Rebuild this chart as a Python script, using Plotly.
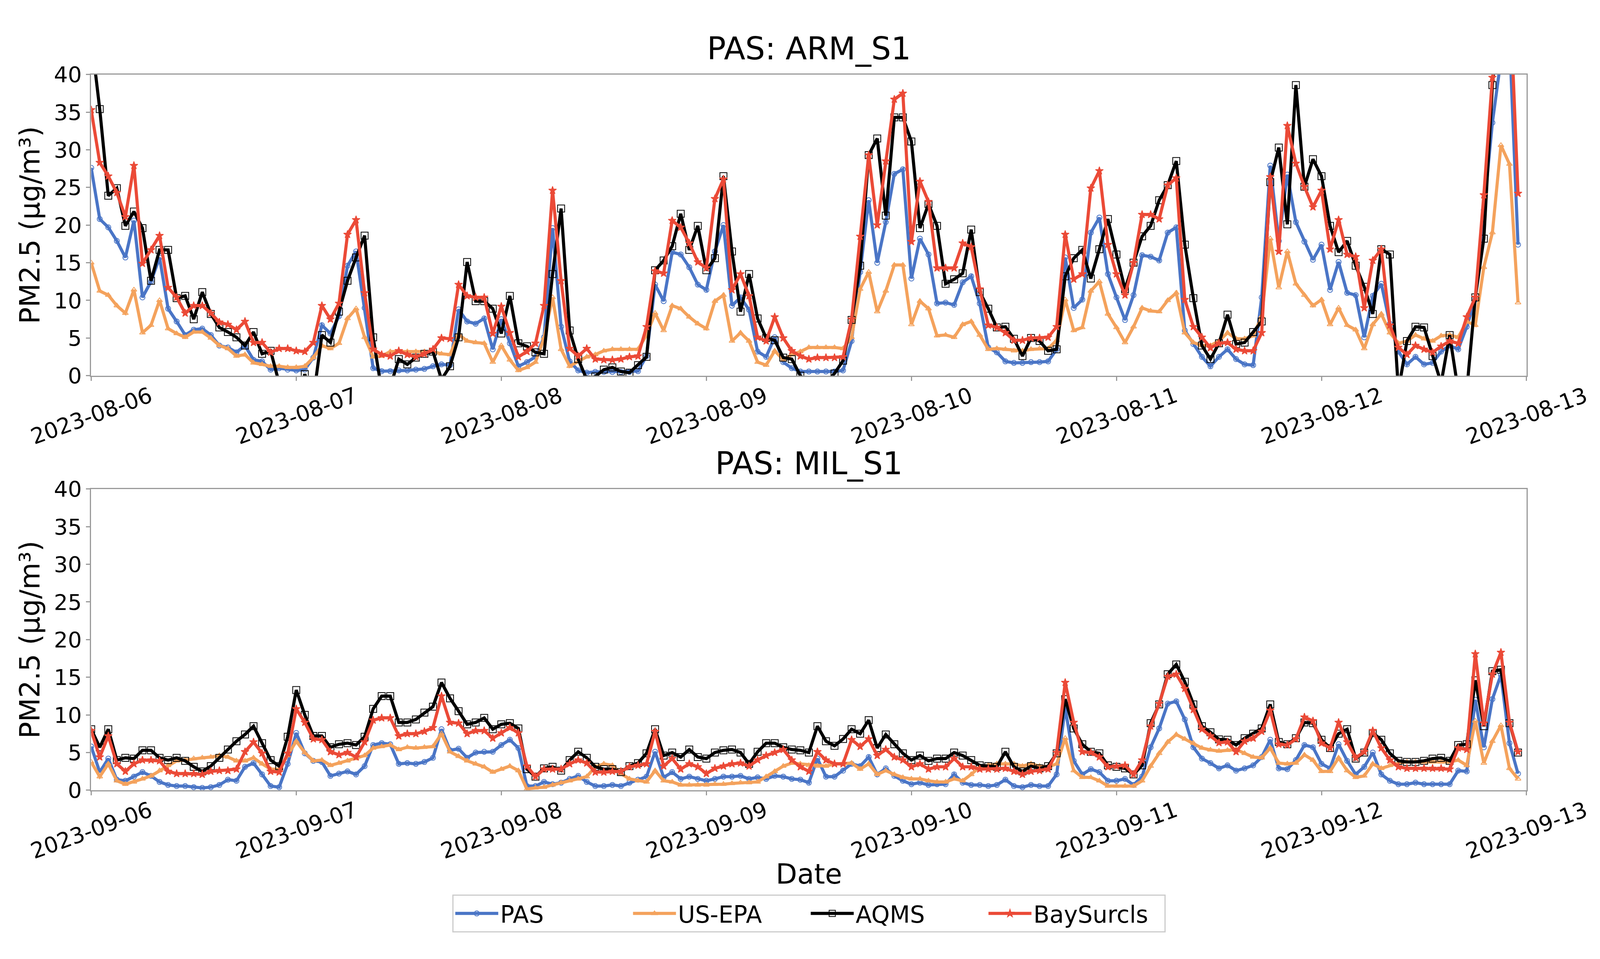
import pandas as pd
import plotly.graph_objects as go

# hourly PM2.5, 7 days, 24 values per row
arm_pas = [
    27.6, 20.8, 19.7, 17.9, 15.7, 20.6, 10.4, 12.5, 15.7, 8.9, 7.2, 5.4, 6.1, 6.25, 5.4, 4.0, 3.75, 3.1, 4.0, 2.1, 1.9, 0.8, 1.0, 0.8,
    0.7, 0.8, 2.4, 6.7, 5.6, 7.9, 14.6, 16.5, 9.0, 1.0, 0.6, 0.6, 0.7, 0.7, 0.8, 0.9, 1.25, 1.5, 1.4, 8.8, 7.2, 6.9, 7.6, 3.5,
    7.5, 4.3, 1.25, 1.8, 2.5, 5.1, 19.6, 6.5, 1.9, 0.7, 0.4, 0.5, 0.5, 0.5, 0.5, 0.5, 0.6, 2.6, 12.1, 9.9, 16.4, 16.1, 14.4, 12.1,
    11.4, 16.5, 20.0, 9.3, 10.4, 8.75, 3.2, 2.5, 5.1, 1.8, 1.0, 0.55, 0.55, 0.55, 0.55, 0.55, 0.7, 4.6, 13.75, 23.3, 15.0, 20.4, 26.8, 27.4,
    12.9, 18.2, 16.1, 9.6, 9.7, 9.4, 12.4, 13.2, 9.6, 3.75, 3.1, 1.9, 1.7, 1.7, 1.8, 1.8, 1.9, 3.5, 15.7, 9.0, 10.1, 19.0, 21.0, 13.5,
    10.4, 7.4, 10.7, 16.0, 15.8, 15.3, 19.0, 19.7, 6.0, 4.2, 2.5, 1.25, 2.5, 3.5, 2.2, 1.5, 1.4, 10.4, 27.9, 17.9, 26.7, 20.4, 17.8, 15.4,
    17.4, 11.4, 15.1, 11.0, 10.7, 5.1, 10.6, 12.2, 6.9, 3.2, 1.5, 2.5, 1.5, 1.7, 3.2, 4.0, 3.5, 6.5, 10.1, 22.0, 33.6, 42.0, 45.0, 17.4,
]
arm_epa = [
    15.0, 11.25, 10.7, 9.3, 8.3, 11.4, 5.7, 6.7, 10.0, 6.25, 5.6, 5.1, 5.8, 5.8, 5.0, 4.0, 3.6, 2.6, 2.8, 1.7, 1.5, 1.25, 1.25, 1.1,
    1.1, 1.25, 2.4, 4.0, 3.6, 4.3, 7.6, 8.9, 5.1, 2.5, 2.6, 3.2, 3.2, 3.2, 3.2, 3.2, 3.2, 2.9, 2.8, 5.5, 4.6, 4.4, 4.3, 1.8,
    4.0, 2.1, 0.7, 1.1, 1.8, 5.0, 10.4, 3.5, 1.25, 1.9, 2.5, 2.8, 3.3, 3.5, 3.5, 3.5, 3.5, 5.4, 8.3, 6.0, 9.3, 8.9, 7.8, 6.9,
    6.25, 9.9, 10.7, 4.6, 5.7, 4.6, 1.8, 1.4, 3.3, 2.1, 2.8, 3.2, 3.75, 3.75, 3.75, 3.75, 3.6, 5.1, 11.5, 13.75, 8.5, 11.25, 14.7, 14.7,
    6.8, 9.9, 8.9, 5.3, 5.4, 5.1, 6.8, 7.2, 5.4, 3.5, 3.6, 3.5, 3.3, 3.3, 3.5, 3.6, 3.6, 4.7, 10.1, 6.0, 6.4, 11.25, 12.5, 8.2,
    6.4, 4.4, 6.5, 9.0, 8.6, 8.5, 10.0, 11.0, 5.7, 4.4, 4.0, 4.0, 4.6, 5.7, 4.9, 4.9, 5.3, 7.9, 18.2, 11.7, 16.5, 12.2, 10.7, 9.3,
    10.1, 6.8, 9.0, 6.7, 6.1, 3.6, 6.8, 8.2, 5.7, 4.3, 4.6, 5.4, 4.9, 4.6, 5.3, 5.4, 5.1, 7.2, 6.7, 14.4, 19.0, 30.6, 28.1, 9.7,
]
arm_aqms = [
    45.0, 35.4, 23.9, 24.9, 19.9, 21.8, 19.6, 12.6, 16.7, 16.7, 10.3, 10.6, 7.5, 11.1, 8.2, 6.4, 5.8, 5.1, 4.0, 5.8, 2.9, 3.3, -1.0, -3.0,
    -4.0, 0.2, -3.0, 5.4, 4.4, 8.5, 12.6, 15.7, 18.6, 5.1, -2.0, -1.5, 2.2, 1.5, 2.4, 2.9, 3.2, -0.5, 1.25, 5.1, 15.1, 9.9, 9.9, 8.9,
    5.6, 10.6, 4.3, 3.9, 3.1, 2.9, 13.5, 22.2, 6.0, 2.2, -0.5, -0.1, 0.8, 1.1, 0.55, 0.4, 1.4, 2.5, 14.0, 15.3, 17.2, 21.5, 16.7, 19.9,
    14.0, 15.6, 26.5, 16.5, 8.5, 13.5, 7.6, 5.0, 4.7, 2.4, 2.2, 0.0, -1.0, -1.5, -1.0, 0.3, 2.0, 7.4, 14.6, 29.3, 31.5, 21.25, 34.3, 34.3,
    31.1, 19.6, 22.8, 19.9, 12.2, 12.8, 13.6, 19.4, 11.1, 8.9, 6.4, 6.5, 4.9, 2.6, 5.0, 4.6, 3.3, 3.5, 13.2, 15.6, 16.7, 12.9, 16.8, 20.8,
    16.1, 11.5, 15.0, 18.5, 19.9, 23.3, 25.3, 28.5, 17.4, 10.3, 4.0, 2.2, 4.3, 8.1, 4.2, 4.4, 5.8, 7.2, 25.7, 30.3, 20.1, 38.6, 25.1, 28.75,
    26.5, 19.9, 16.4, 17.9, 14.6, 11.8, 8.2, 16.8, 16.1, -2.0, 4.6, 6.5, 6.4, 2.6, -1.0, 5.4, -2.0, -2.0, 10.4, 18.2, 38.6, 50.0, 55.0, 48.0,
]
arm_bay = [
    35.3, 28.3, 26.5, 24.3, 21.1, 27.9, 14.9, 16.7, 18.6, 11.7, 10.4, 8.3, 9.3, 9.3, 8.3, 7.1, 6.8, 6.1, 7.2, 4.4, 4.4, 3.1, 3.6, 3.6,
    3.3, 3.2, 4.4, 9.3, 7.5, 9.6, 18.75, 20.7, 11.0, 3.5, 2.8, 2.6, 3.3, 2.8, 2.5, 2.9, 3.5, 5.0, 4.9, 12.1, 10.6, 10.4, 10.4, 5.6,
    9.2, 5.7, 2.5, 3.2, 4.3, 9.3, 24.6, 12.6, 3.6, 2.6, 3.6, 2.2, 2.1, 2.1, 2.2, 2.5, 2.6, 6.5, 13.9, 13.6, 20.6, 19.7, 17.6, 15.1,
    14.3, 23.5, 26.1, 11.4, 13.5, 10.6, 5.1, 4.6, 7.8, 5.0, 3.3, 2.6, 2.2, 2.4, 2.4, 2.4, 2.5, 7.5, 18.5, 29.3, 20.0, 28.5, 36.7, 37.5,
    17.8, 25.8, 23.1, 14.3, 14.3, 14.3, 17.6, 17.1, 11.5, 6.7, 6.4, 5.7, 4.7, 4.7, 5.0, 5.0, 5.1, 6.5, 18.75, 12.8, 13.5, 24.9, 27.2, 17.4,
    13.5, 10.7, 15.0, 21.4, 21.4, 20.8, 25.3, 26.25, 10.1, 6.5, 5.1, 3.7, 4.3, 4.4, 3.5, 3.3, 3.3, 5.7, 26.4, 16.5, 33.2, 28.2, 25.1, 22.4,
    24.6, 16.8, 20.7, 16.1, 15.8, 9.0, 15.3, 16.8, 6.7, 3.75, 2.8, 4.0, 3.5, 3.1, 3.9, 4.6, 4.3, 7.8, 10.4, 24.0, 39.6, 47.0, 52.0, 24.2,
]

mil_pas = [
    5.8, 2.4, 4.2, 1.4, 1.25, 1.8, 2.4, 1.9, 1.1, 0.7, 0.55, 0.55, 0.4, 0.3, 0.4, 0.7, 1.4, 1.25, 3.1, 3.6, 2.1, 0.55, 0.4, 3.5,
    7.6, 4.9, 3.9, 3.75, 1.9, 2.2, 2.5, 2.1, 3.2, 6.0, 6.25, 6.1, 3.5, 3.6, 3.5, 3.75, 4.3, 8.1, 5.3, 5.5, 4.3, 5.0, 5.1, 5.1,
    6.0, 6.7, 5.6, 0.55, 0.55, 1.1, 0.8, 1.0, 1.5, 1.9, 1.1, 0.55, 0.55, 0.7, 0.55, 1.0, 1.4, 1.8, 5.1, 1.7, 2.4, 1.5, 1.8, 1.5,
    1.25, 1.5, 1.8, 1.8, 1.9, 1.5, 1.7, 1.5, 1.9, 1.8, 1.5, 1.4, 1.0, 4.2, 1.8, 1.8, 2.6, 3.5, 3.2, 4.4, 2.1, 2.9, 1.9, 1.25,
    0.8, 1.0, 0.7, 0.8, 0.8, 2.1, 1.0, 0.7, 0.7, 0.55, 0.7, 1.4, 0.55, 0.4, 0.7, 0.55, 0.55, 2.1, 11.0, 3.9, 2.1, 2.8, 2.4, 1.25,
    1.25, 1.5, 0.7, 1.8, 5.7, 8.2, 11.5, 11.8, 9.4, 5.7, 4.2, 3.6, 2.9, 3.3, 2.6, 2.9, 3.3, 4.4, 6.7, 2.9, 2.8, 4.0, 6.0, 5.7,
    3.5, 2.9, 6.1, 3.9, 2.1, 3.1, 5.0, 2.1, 1.25, 0.8, 0.8, 1.0, 0.8, 0.8, 0.8, 0.8, 2.6, 2.5, 12.0, 5.7, 12.1, 15.3, 6.25, 2.2,
]
mil_epa = [
    3.75, 1.8, 3.5, 1.25, 0.8, 1.1, 1.5, 1.9, 2.6, 3.3, 3.9, 4.0, 4.2, 4.3, 4.4, 4.6, 4.4, 3.9, 3.9, 4.3, 3.5, 2.8, 2.8, 4.6,
    6.5, 5.0, 3.9, 4.0, 3.3, 3.6, 3.9, 4.2, 4.6, 5.6, 5.8, 6.0, 5.4, 5.7, 5.6, 5.7, 5.8, 7.5, 5.1, 4.5, 3.9, 3.5, 3.1, 2.4,
    2.8, 3.2, 2.6, 0.15, 0.3, 0.4, 0.7, 1.0, 1.25, 1.5, 1.8, 3.1, 3.5, 3.3, 2.2, 1.5, 1.25, 1.1, 2.6, 1.25, 1.1, 0.7, 0.7, 0.7,
    0.7, 0.8, 0.8, 0.9, 1.0, 1.0, 1.1, 1.8, 2.5, 3.2, 3.6, 3.5, 3.3, 3.2, 3.2, 3.5, 3.5, 3.6, 2.8, 3.5, 2.1, 2.6, 2.1, 1.7,
    1.5, 1.5, 1.25, 1.1, 1.1, 1.5, 1.25, 2.1, 3.1, 3.3, 3.5, 3.5, 3.5, 3.2, 3.5, 3.2, 3.1, 3.5, 6.9, 2.6, 1.7, 1.7, 1.25, 0.55,
    0.55, 0.55, 0.55, 1.25, 3.2, 4.9, 6.4, 7.4, 6.8, 6.25, 5.6, 5.35, 5.2, 5.3, 5.4, 4.9, 4.4, 4.3, 5.6, 3.6, 3.5, 3.6, 4.7, 4.0,
    2.5, 2.5, 4.3, 2.6, 1.7, 1.9, 3.5, 2.9, 3.3, 3.6, 3.75, 3.75, 3.75, 3.75, 3.75, 3.75, 4.0, 3.3, 9.2, 3.6, 6.5, 8.6, 2.9, 1.5,
]
mil_aqms = [
    8.1, 5.7, 8.1, 4.0, 4.3, 4.2, 5.3, 5.3, 4.3, 4.0, 4.3, 3.9, 3.1, 2.5, 3.2, 4.3, 5.4, 6.5, 7.4, 8.5, 6.25, 4.0, 3.2, 7.1,
    13.3, 10.0, 7.2, 7.2, 5.7, 6.1, 6.25, 6.0, 7.1, 10.8, 12.5, 12.5, 9.0, 9.0, 9.4, 10.3, 11.1, 14.3, 12.2, 10.5, 8.75, 9.0, 9.6, 8.1,
    8.75, 8.9, 8.2, 2.8, 1.8, 2.9, 3.1, 2.6, 4.0, 5.1, 4.3, 3.1, 2.8, 2.8, 2.4, 3.2, 3.6, 4.9, 8.1, 4.6, 5.0, 4.4, 5.4, 4.4,
    4.2, 5.0, 5.3, 5.4, 5.0, 3.5, 5.1, 6.25, 6.25, 5.7, 5.4, 5.3, 5.0, 8.5, 6.5, 5.9, 6.8, 8.1, 7.5, 9.3, 5.6, 7.4, 6.1, 4.9,
    4.0, 4.6, 3.9, 4.2, 4.2, 5.0, 4.6, 4.0, 3.3, 3.2, 3.1, 5.1, 3.1, 2.5, 3.2, 2.9, 3.2, 4.9, 12.1, 8.2, 6.1, 5.1, 4.9, 3.3,
    3.1, 2.9, 2.1, 3.3, 8.9, 11.4, 15.4, 16.7, 14.4, 11.4, 8.5, 7.7, 6.75, 6.7, 6.0, 6.9, 7.5, 8.2, 11.4, 6.4, 6.1, 6.9, 9.0, 8.9,
    6.7, 5.6, 7.5, 8.1, 4.2, 5.0, 7.6, 6.7, 4.9, 3.9, 3.75, 3.75, 3.9, 4.2, 4.3, 3.9, 6.0, 6.1, 14.6, 8.5, 15.8, 16.0, 8.9, 5.0,
]
mil_bay = [
    7.9, 4.4, 7.2, 3.5, 2.5, 3.5, 4.0, 4.0, 3.9, 2.5, 2.2, 2.2, 2.2, 2.1, 2.5, 2.6, 2.6, 2.8, 5.1, 6.4, 4.9, 2.5, 2.4, 4.9,
    10.8, 9.0, 6.8, 6.7, 5.1, 4.7, 5.0, 4.4, 6.4, 9.3, 9.6, 9.6, 7.2, 7.5, 7.5, 7.8, 8.3, 12.5, 9.0, 8.9, 7.5, 7.9, 7.9, 6.9,
    7.6, 8.3, 7.6, 3.2, 1.8, 2.8, 2.8, 2.8, 3.5, 4.0, 3.6, 2.4, 2.4, 2.5, 2.5, 3.1, 3.3, 3.5, 7.8, 3.2, 4.2, 2.8, 3.5, 3.1,
    2.2, 2.9, 3.2, 3.5, 3.6, 3.2, 4.0, 4.6, 5.0, 5.4, 4.0, 3.1, 2.5, 5.1, 4.0, 3.5, 3.5, 6.7, 5.8, 6.8, 4.6, 5.4, 4.4, 4.0,
    3.1, 3.5, 2.8, 3.1, 3.1, 4.2, 3.1, 3.1, 2.8, 2.8, 2.8, 2.9, 2.5, 2.1, 2.5, 2.6, 2.8, 5.0, 14.3, 9.0, 5.1, 5.0, 4.4, 3.1,
    3.2, 3.3, 2.1, 4.0, 8.5, 11.5, 15.1, 15.4, 13.5, 10.7, 8.1, 7.2, 6.3, 6.4, 5.1, 6.5, 6.9, 7.8, 10.6, 6.1, 6.0, 6.8, 9.7, 9.2,
    6.25, 5.6, 9.0, 6.4, 4.3, 5.1, 7.9, 5.6, 4.0, 3.1, 2.9, 2.9, 2.9, 2.9, 2.9, 2.8, 5.6, 5.4, 18.1, 8.9, 15.4, 18.3, 9.0, 5.1,
]

series_names = ["PAS", "US-EPA", "AQMS", "BaySurcls"]
series_colors = ["#4A75C6", "#F4A25C", "#000000", "#EB4A37"]
series_symbols = ["circle-open", "triangle-up-open", "square-open", "star"]
series_msize = [13, 13, 18, 15]

panel_titles = ["PAS: ARM_S1", "PAS: MIL_S1"]
panel_starts = ["2023-08-06", "2023-09-06"]
panel_data = [
    [arm_pas, arm_epa, arm_aqms, arm_bay],
    [mil_pas, mil_epa, mil_aqms, mil_bay],
]

FONT = "DejaVu Sans"
GRAY = "#9A9A9A"

# domains in paper coords
x_dom = [0.0570, 0.9541]
y_doms = [[0.6110, 0.9336], [0.1670, 0.4896]]
title_y = [0.9613, 0.5169]
ticklab_y = [0.5682, 0.1242]

fig = go.Figure()
annotations = []

for p in range(2):
    times = pd.date_range(panel_starts[p], periods=len(panel_data[p][0]), freq="h")
    xa = "x" if p == 0 else "x2"
    ya = "y" if p == 0 else "y2"
    for i in range(4):
        fig.add_trace(go.Scatter(
            x=times, y=panel_data[p][i], name=series_names[i],
            mode="lines+markers", xaxis=xa, yaxis=ya,
            line=dict(color=series_colors[i], width=8),
            marker=dict(symbol=series_symbols[i], size=series_msize[i],
                        color=series_colors[i], line=dict(width=2, color=series_colors[i])),
            showlegend=(p == 0),
        ))

    days = pd.date_range(panel_starts[p], periods=8, freq="D")
    axis_common = dict(
        domain=x_dom, range=[days[0], days[-1]], tickvals=list(days),
        showticklabels=False, ticks="outside", ticklen=10, tickwidth=3, tickcolor=GRAY,
        showline=True, mirror=True, linecolor=GRAY, linewidth=3,
        showgrid=False, zeroline=False,
    )
    yaxis_common = dict(
        domain=y_doms[p], range=[0, 40], dtick=5,
        ticks="outside", ticklen=10, tickwidth=3, tickcolor=GRAY,
        tickfont=dict(family=FONT, size=56, color="black"),
        showline=True, mirror=True, linecolor=GRAY, linewidth=3,
        showgrid=False, zeroline=False,
        title=dict(text="PM2.5 (μg/m³)", font=dict(family=FONT, size=71, color="black"), standoff=14),
    )
    if p == 0:
        fig.update_layout(xaxis=dict(anchor="y", **axis_common), yaxis=dict(anchor="x", **yaxis_common))
    else:
        fig.update_layout(xaxis2=dict(anchor="y2", **axis_common), yaxis2=dict(anchor="x2", **yaxis_common))

    # rotated date labels, centred on each tick
    for d in days:
        annotations.append(dict(
            x=d, y=ticklab_y[p], xref=xa, yref="paper", text=d.strftime("%Y-%m-%d"),
            showarrow=False, textangle=-20, xanchor="center", yanchor="middle",
            font=dict(family=FONT, size=56, color="black"),
        ))
    annotations.append(dict(
        x=(x_dom[0] + x_dom[1]) / 2, y=title_y[p], xref="paper", yref="paper",
        text=panel_titles[p], showarrow=False, xanchor="center", yanchor="middle",
        font=dict(family=FONT, size=80, color="black"),
    ))

annotations.append(dict(
    x=(x_dom[0] + x_dom[1]) / 2, y=0.0770, xref="paper", yref="paper", text="Date",
    showarrow=False, xanchor="center", yanchor="middle",
    font=dict(family=FONT, size=71, color="black"),
))

fig.update_layout(
    autosize=True,
    margin=dict(l=0, r=0, t=0, b=0),
    paper_bgcolor="white", plot_bgcolor="white",
    font=dict(family=FONT, color="black"),
    annotations=annotations,
    legend=dict(
        orientation="h", x=0.5055, xanchor="center", y=0.035, yanchor="middle",
        font=dict(family=FONT, size=60, color="black"),
        bordercolor="#CCCCCC", borderwidth=3, bgcolor="white",
        itemwidth=110, entrywidth=330, tracegroupgap=0,
    ),
    showlegend=True,
)

# fill the browser window exactly, no page margin
post = ("document.body.style.margin='0';document.body.style.overflow='hidden';"
        "Plotly.Plots.resize(document.getElementById('{plot_id}'));")
fig.write_html("out.html", default_width="100vw", default_height="100vh",
               post_script=post, config={"responsive": True, "displayModeBar": False})
